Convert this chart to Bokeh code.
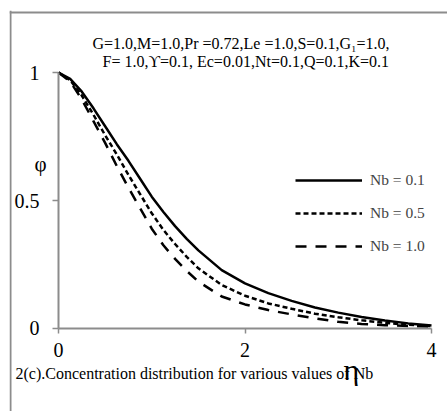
from bokeh.plotting import figure
from bokeh.models import Range1d, Label, Legend, LegendItem, FixedTicker, CustomJSTickFormatter, Span
from bokeh.embed import file_html
from bokeh.resources import INLINE

eta = [0.0, 0.125, 0.25, 0.375, 0.5, 0.625, 0.75, 0.875, 1.0, 1.125, 1.25, 1.375, 1.5,
       1.75, 2.0, 2.25, 2.5, 2.75, 3.0, 3.25, 3.5, 3.75, 4.0]
phi_nb01 = [1.0, 0.975, 0.925, 0.86, 0.79, 0.72, 0.655, 0.585, 0.515, 0.455, 0.40, 0.35, 0.305,
            0.228, 0.176, 0.138, 0.108, 0.082, 0.062, 0.045, 0.031, 0.02, 0.012]
phi_nb05 = [1.0, 0.97, 0.91, 0.835, 0.755, 0.68, 0.60, 0.525, 0.45, 0.385, 0.33, 0.28, 0.235,
            0.17, 0.128, 0.098, 0.077, 0.058, 0.044, 0.032, 0.022, 0.015, 0.009]
phi_nb10 = [1.0, 0.965, 0.895, 0.81, 0.725, 0.635, 0.55, 0.47, 0.39, 0.325, 0.272, 0.225, 0.183,
            0.125, 0.094, 0.072, 0.055, 0.04, 0.026, 0.018, 0.013, 0.01, 0.008]
series_labels = ["Nb = 0.1", "Nb = 0.5", "Nb = 1.0"]
x_ticks = [0, 2, 4]
y_ticks = [0, 0.5, 1]
header_1 = "G=1.0,M=1.0,Pr =0.72,Le =1.0,S=0.1,G\u2081=1.0,"
header_2 = "F= 1.0,\u03d2=0.1, Ec=0.01,Nt=0.1,Q=0.1,K=0.1"
caption = "2(c).Concentration distribution for various values of Nb"
x_title = "\u03b7"
y_title = "\u03c6"

FONT = "Liberation Serif"
GRAY = "#8c8c8c"

W, H = 438, 401
X0, X1 = -0.52547, 4.17158
Y0, Y1 = -0.32422, 1.24219

# frame covers the whole canvas; the axes sit at the data origin
p = figure(width=W, height=H, output_backend="svg", toolbar_location=None,
           x_range=Range1d(X0, X1), y_range=Range1d(Y0, Y1), min_border=0)
p.styles = {"margin-left": "9px", "margin-top": "10px"}
p.outline_line_color = None
p.grid.visible = False
p.background_fill_color = "white"
p.border_fill_color = "white"

# chart-area border (left and top edges)
px_x = (X1 - X0) / W
px_y = (Y1 - Y0) / H
p.add_layout(Span(location=X0 + px_x, dimension="height", line_color=GRAY, line_width=2))
p.add_layout(Span(location=Y1 - 2 * px_y, dimension="width", line_color=GRAY, line_width=2))

for ax, ticks, bounds in ((p.xaxis[0], x_ticks, (0, 4)), (p.yaxis[0], y_ticks, (0, 1))):
    ax.ticker = FixedTicker(ticks=ticks)
    ax.bounds = bounds
    ax.fixed_location = 0
    ax.minor_tick_line_color = None
    ax.axis_line_color = GRAY
    ax.axis_line_width = 2
    ax.major_tick_line_color = GRAY
    ax.major_tick_line_width = 1.5
    ax.major_tick_in = 0
    ax.major_label_text_font = FONT
    ax.major_label_text_font_size = "20px"
    ax.major_label_text_color = "black"
p.xaxis.major_tick_out = 5
p.xaxis.major_label_standoff = 10
p.yaxis.major_tick_out = 6
p.yaxis.major_label_standoff = 13
p.yaxis.formatter = CustomJSTickFormatter(code="return tick == 0.5 ? '0.5' : tick.toFixed(0);")

r1 = p.line(eta, phi_nb01, line_color="black", line_width=2.5)
r2 = p.line(eta, phi_nb05, line_color="black", line_width=2.5, line_dash="5 3")
r3 = p.line(eta, phi_nb10, line_color="black", line_width=2.5, line_dash="11 9")

legend = Legend(items=[LegendItem(label=series_labels[0], renderers=[r1]),
                       LegendItem(label=series_labels[1], renderers=[r2]),
                       LegendItem(label=series_labels[2], renderers=[r3])],
                location=(286, 155), orientation="vertical",
                border_line_color=None, background_fill_alpha=0,
                padding=0, margin=0, spacing=13,
                glyph_width=67, glyph_height=20, label_height=20,
                label_standoff=8, label_text_font=FONT, label_text_font_size="15.5px")
p.add_layout(legend)

def lab(x, y, text, size, align="left"):
    p.add_layout(Label(x=x, y=y, text=text, text_font=FONT, text_font_size=size,
                       text_align=align, text_baseline="middle", text_color="black"))

lab(0.3646, 1.1133, header_1, "16px")
lab(0.4718, 1.0430, header_2, "16px")
lab(-0.4611, -0.1758, caption, "16px")
lab(-0.193, 0.6445, y_title, "21px", align="center")
lab(3.1406, -0.1602, x_title, "30px", align="center")

open("out.html", "w").write(file_html(p, INLINE))
